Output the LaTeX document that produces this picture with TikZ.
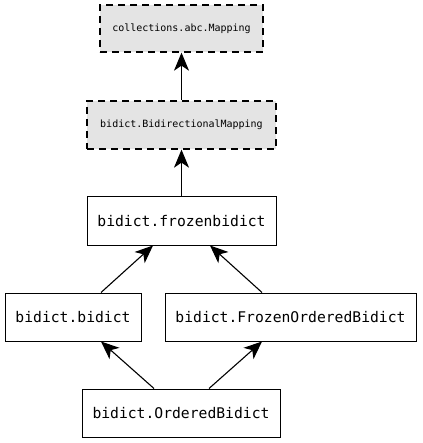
\documentclass[tikz,border=0pt]{standalone}
\usepackage{fontspec}
\setmonofont{DejaVu Sans Mono}
\usetikzlibrary{arrows.meta}
\definecolor{abcfill}{HTML}{E4E4E4}
\tikzset{
  abcbox/.style={draw, fill=abcfill, line width=1.3pt, dash pattern=on 7pt off 5pt,
    font=\ttfamily\fontsize{10}{12}\selectfont, inner sep=0pt},
  clsbox/.style={draw, line width=1pt, font=\ttfamily\fontsize{14.7}{17}\selectfont, inner sep=0pt},
  inherit/.style={-{Stealth[length=18pt,width=15pt,inset=5pt]}, line width=1.1pt}
}

\begin{document}
\begin{tikzpicture}[x=1pt,y=-1pt]
  \useasboundingbox (0,0) rectangle (422,443);
  % ---- abstract bases ----
  \node[abcbox, minimum width=163pt, minimum height=47pt] (mapping) at (181.5,28.5) {collections.abc.Mapping};
  \node[abcbox, minimum width=189pt, minimum height=48pt] (bimap) at (181.5,125) {bidict.BidirectionalMapping};
  % ---- concrete classes ----
  \node[clsbox, minimum width=189pt, minimum height=48pt] (frozen) at (181.5,221) {bidict.frozenbidict};
  \node[clsbox, minimum width=136pt, minimum height=48pt] (mutable) at (73,317) {bidict.bidict};
  \node[clsbox, minimum width=251pt, minimum height=48pt] (frozenord) at (290.5,317) {bidict.FrozenOrderedBidict};
  \node[clsbox, minimum width=198pt, minimum height=48pt] (ordered) at (181,413) {bidict.OrderedBidict};
  % ---- inheritance ----
  \draw[inherit] (bimap) -- (mapping);
  \draw[inherit] (frozen) -- (bimap);
  \draw[inherit] (mutable.north -| 101,0) -- (frozen.south -| 153,0);
  \draw[inherit] (frozenord.north -| 262,0) -- (frozen.south -| 210,0);
  \draw[inherit] (ordered.north -| 154,0) -- (mutable.south -| 101,0);
  \draw[inherit] (ordered.north -| 209,0) -- (frozenord.south -| 262,0);
\end{tikzpicture}
\end{document}
